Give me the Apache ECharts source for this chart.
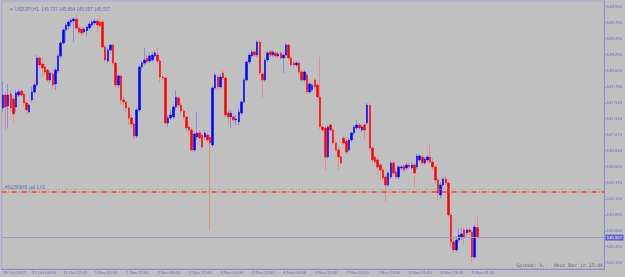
<!DOCTYPE html>
<html><head><meta charset="utf-8">
<script src="https://cdn.jsdelivr.net/npm/echarts@6/dist/echarts.min.js"></script>
<style>html,body{margin:0;padding:0;background:#C0C0C0;}#c{width:625px;height:277px;}</style>
</head><body><div id="c"></div>
<script>
// Trading days shown (label, first hour, last hour)
const sessions = [['28 Oct',12,22],['31 Oct',0,23],['1 Nov',0,23],['2 Nov',0,23],['3 Nov',0,23],['4 Nov',0,22],['7 Nov',0,23],['8 Nov',0,23],['9 Nov',0,3]];
const firstLabel = '28 Oct 2022';
const yTickLabels = [148.960,148.725,148.490,148.255,148.020,147.780,147.545,147.310,147.075,146.840,146.605,146.370,146.130,145.895,145.660,145.425,145.190];
const lastPrice = 145.557;
const orderLine = 146.235;
const tpLine = 146.267;
const headerText = '\u25BC USDJPY,H1  145.707 145.864 145.557 145.557';
const footerText = 'Spread: 9..  Next Bar in 15:44';
const orderText = '#61258845 sell 1.00';

const open = [147.468,147.660,147.498,147.675,147.601,147.483,147.660,147.719,147.675,147.542,
147.410,147.586,147.705,147.807,148.205,148.116,148.072,148.028,147.881,147.969,
147.822,148.013,148.235,148.426,148.617,148.676,148.735,148.749,148.779,148.646,
148.631,148.588,148.602,148.646,148.690,148.720,148.749,148.735,148.735,148.367,
148.160,148.323,148.396,148.131,147.807,147.940,147.586,147.557,147.468,147.321,
147.233,147.056,147.439,148.072,148.131,148.205,148.160,148.175,148.235,148.249,
148.160,147.925,147.910,147.248,147.321,147.336,147.483,147.616,147.512,147.424,
147.336,147.189,147.144,146.850,147.041,147.100,147.070,147.041,147.070,147.041,
146.924,147.763,147.925,147.778,147.984,147.910,147.395,147.336,147.336,147.292,
147.263,147.395,147.557,147.881,148.146,148.235,148.294,148.249,148.441,147.969,
147.881,148.175,148.294,148.249,148.279,148.235,148.279,148.205,148.249,148.396,
148.205,148.131,148.101,148.131,147.999,147.881,147.954,147.705,147.734,147.881,
147.807,147.631,147.189,147.174,146.747,147.218,147.144,146.953,146.850,146.747,
147.026,146.982,146.850,146.997,147.100,147.174,147.218,147.144,147.218,147.248,
147.512,146.880,146.747,146.703,146.629,146.555,146.452,146.335,146.452,146.659,
146.526,146.452,146.585,146.614,146.585,146.629,146.585,146.629,146.600,146.703,
146.747,146.659,146.703,146.747,146.673,146.600,146.408,146.187,146.335,146.423,
146.364,145.892,145.495,145.377,145.524,145.569,145.672,145.628,145.672,145.643,
145.274,145.707];
const close = [147.660,147.483,147.660,147.468,147.380,147.690,147.705,147.660,147.542,147.439,
147.512,147.705,147.807,148.205,148.101,148.057,147.999,147.881,147.984,147.807,
148.028,148.235,148.426,148.617,148.690,148.735,148.764,148.779,148.646,148.588,
148.573,148.631,148.661,148.705,148.735,148.749,148.690,148.676,148.367,148.175,
148.323,148.396,148.131,147.807,147.940,147.586,147.557,147.468,147.321,147.233,
147.056,147.439,148.072,148.131,148.175,148.146,148.235,148.249,148.279,148.160,
147.925,147.910,147.248,147.321,147.365,147.483,147.631,147.512,147.424,147.336,
147.174,147.144,146.850,147.085,147.100,147.026,146.894,147.100,146.997,146.953,
147.763,147.954,147.778,147.925,147.910,147.365,147.336,147.395,147.292,147.307,
147.410,147.557,147.881,148.146,148.249,148.294,148.249,148.441,147.984,147.881,
148.175,148.279,148.249,148.294,148.235,148.264,148.205,148.249,148.396,148.205,
148.101,148.101,148.131,147.999,147.881,147.999,147.705,147.822,147.807,147.778,
147.631,147.189,147.144,146.747,147.189,147.144,146.953,146.850,146.747,146.659,
146.953,146.821,146.997,147.100,147.189,147.218,147.174,147.189,147.144,147.512,
146.880,146.703,146.673,146.600,146.555,146.438,146.335,146.511,146.659,146.511,
146.452,146.600,146.600,146.555,146.629,146.600,146.629,146.511,146.762,146.762,
146.659,146.717,146.747,146.673,146.600,146.408,146.217,146.335,146.423,146.364,
145.892,145.495,145.377,145.524,145.598,145.613,145.554,145.672,145.643,145.274,
145.716,145.557];
const high = [147.852,147.705,147.822,147.719,147.646,147.734,147.748,147.748,147.705,147.571,
147.527,147.778,147.837,148.249,148.235,148.205,148.116,148.042,148.013,147.999,
148.057,148.264,148.455,148.646,148.720,148.764,148.794,148.809,148.853,148.676,
148.661,148.661,148.690,148.735,148.764,148.779,148.779,148.823,148.764,148.396,
148.352,148.411,148.426,148.146,147.969,147.969,147.646,147.586,147.498,147.365,
147.263,147.468,148.101,148.160,148.352,148.249,148.279,148.294,148.308,148.367,
148.190,147.954,147.940,147.365,147.439,147.512,147.734,147.660,147.542,147.468,
147.365,147.233,147.174,147.115,147.410,147.144,147.115,147.144,147.115,147.070,
147.793,147.984,147.954,147.969,148.028,147.940,147.439,147.439,147.395,147.365,
147.468,147.586,147.910,148.175,148.279,148.323,148.323,148.470,148.470,147.999,
148.205,148.308,148.323,148.323,148.308,148.294,148.308,148.279,148.426,148.426,
148.235,148.160,148.160,148.160,148.028,148.028,147.984,147.852,147.837,147.910,
147.837,148.220,147.218,147.203,147.218,147.248,147.174,146.997,146.894,146.776,
147.056,147.011,147.026,147.130,147.218,147.292,147.248,147.218,147.248,147.542,
147.542,146.909,146.776,146.732,146.659,146.585,146.482,146.541,146.688,146.688,
146.555,146.629,146.629,146.644,146.659,146.659,146.659,146.659,146.791,146.791,
146.776,146.747,146.776,146.924,146.732,146.629,146.438,146.379,146.452,146.467,
146.394,145.922,145.554,145.583,145.701,145.701,145.716,145.701,145.701,145.672,
145.745,145.864];
const low = [147.410,147.144,147.174,147.424,147.263,147.410,147.631,147.631,147.498,147.365,
147.395,147.557,147.675,147.778,148.057,147.925,147.954,147.852,147.837,147.748,
147.734,147.984,148.205,148.396,148.441,148.617,148.661,148.441,148.617,148.558,
148.529,148.558,148.529,148.617,148.661,148.690,148.588,148.646,148.352,148.146,
148.131,148.294,148.101,147.763,147.763,147.512,147.498,147.410,147.218,147.174,
146.997,147.026,147.410,148.028,148.101,148.116,148.131,148.146,148.205,148.131,
147.837,147.881,147.218,147.189,147.292,147.307,147.439,147.468,147.380,147.292,
147.130,147.070,146.821,146.821,146.997,146.968,146.865,146.997,146.953,145.672,
146.894,147.734,147.734,147.748,147.881,147.336,147.218,147.174,147.248,147.218,
147.218,147.365,147.527,147.852,148.116,148.205,148.220,148.220,147.954,147.616,
147.852,148.146,148.220,148.220,148.205,148.205,148.175,147.984,148.220,148.175,
148.072,148.072,148.072,147.969,147.852,147.852,147.675,147.675,147.705,147.748,
147.601,147.159,147.115,146.555,146.717,147.115,146.924,146.821,146.555,146.629,
146.924,146.791,146.821,146.968,147.070,147.144,147.144,147.115,146.997,147.218,
146.850,146.673,146.644,146.482,146.408,146.408,146.085,146.305,146.423,146.482,
146.423,146.423,146.555,146.526,146.555,146.570,146.555,146.305,146.570,146.673,
146.629,146.629,146.673,146.644,146.555,146.349,146.114,146.143,146.290,146.335,
145.863,145.406,145.333,145.348,145.480,145.524,145.450,145.583,145.598,145.201,
145.245,145.557];

// build hourly category labels
const categories = [];
sessions.forEach(s => { for (let h = s[1]; h <= s[2]; h++) categories.push(s[0] + ' ' + (h < 10 ? '0' : '') + h + ':00'); });
const nBars = categories.length;
const slots = categories.concat(new Array(230 - nBars).fill(''));

const wickData = open.map((o, i) => [o, close[i], low[i], high[i]]);
const bodyData = open.map((o, i) => [o, close[i], Math.min(o, close[i]), Math.max(o, close[i])]);

const txt = '#6A6AC8';
const showIdx = (i) => i < nBars && (i === 0 || (i - 11) % 12 === 0);

const chart = echarts.init(document.getElementById('c'), null, {renderer: 'canvas'});
chart.setOption({
  animation: false,
  backgroundColor: '#C0C0C0',
  textStyle: {fontFamily: 'Liberation Sans'},
  title: {text: headerText, left: 4, top: 2, textStyle: {fontSize: 4.5, fontWeight: 'normal', color: txt, fontFamily: 'Liberation Sans'}},
  graphic: [{type: 'text', right: 22, bottom: 9, style: {text: footerText, fontSize: 4.8, fontFamily: 'DejaVu Sans Mono', fill: '#6C6C6C'}}],
  grid: {left: 1.5, right: 20.5, top: 1, bottom: 8, show: true, borderColor: '#A4A4D4', borderWidth: 1, backgroundColor: '#C0C0C0'},
  xAxis: {
    type: 'category', data: slots, boundaryGap: true,
    axisLine: {lineStyle: {color: '#8C8CD0'}},
    axisTick: {alignWithLabel: true, interval: showIdx, length: 2, lineStyle: {color: '#8C8CD0'}},
    axisLabel: {interval: showIdx, align: 'left', margin: 1.5, fontSize: 4.2, color: txt,
      formatter: (v, i) => i === 0 ? firstLabel : v},
    splitLine: {show: false}
  },
  yAxis: {
    type: 'value', position: 'right', min: 145.097, max: 149.044,
    axisLine: {show: true, lineStyle: {color: '#8C8CD0'}},
    axisTick: {show: true, length: 2, customValues: yTickLabels, lineStyle: {color: '#8C8CD0'}},
    axisLabel: {customValues: yTickLabels, margin: 2.5, fontSize: 4.2, color: txt, formatter: v => v.toFixed(3)},
    splitLine: {show: false}
  },
  series: [
    {type: 'candlestick', data: wickData, barWidth: 1, silent: true,
      itemStyle: {color: '#8A8AE8', color0: '#E88A8A', borderColor: '#8A8AE8', borderColor0: '#E88A8A', borderWidth: 1}},
    {type: 'candlestick', data: bodyData, barWidth: 2, silent: true,
      itemStyle: {color: '#0000FF', color0: '#FF0000', borderColor: '#0000FF', borderColor0: '#FF0000', borderWidth: 0.5},
      markLine: {silent: true, symbol: 'none', animation: false, data: [
        {yAxis: tpLine, lineStyle: {color: '#8CC48C', width: 1, type: [4, 2, 1, 2]}, label: {show: false}},
        {yAxis: orderLine, lineStyle: {color: '#F05A5A', width: 2, type: [5, 2, 1, 2]},
          label: {show: true, position: 'insideStartTop', distance: [3, 1], formatter: orderText, fontSize: 4.5, color: txt}},
        {yAxis: lastPrice, lineStyle: {color: '#9C9CBC', width: 1, type: 'solid'},
          label: {show: true, position: 'end', distance: 1, formatter: lastPrice.toFixed(3), fontSize: 4.2, color: '#FFFFFF', backgroundColor: '#6464CC', padding: [1, 1.5]}}
      ]}}
  ]
});
</script></body></html>
